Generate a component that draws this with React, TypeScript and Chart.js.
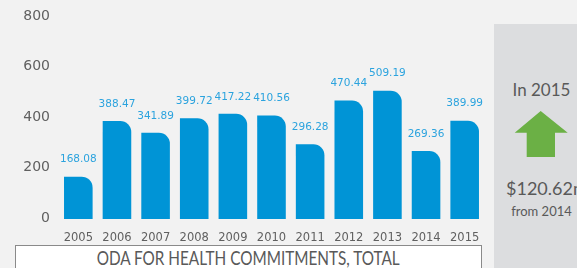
import React, { useEffect, useLayoutEffect, useRef } from "react";
import { Chart, registerables } from "chart.js";

Chart.register(...registerables);

const years = ["2005", "2006", "2007", "2008", "2009", "2010", "2011", "2012", "2013", "2014", "2015"];
const commitments = [168.08, 388.47, 341.89, 399.72, 417.22, 410.56, 296.28, 470.44, 509.19, 269.36, 389.99];
const yTicks = [0, 200, 400, 600, 800];
const chartTitle = "ODA FOR HEALTH COMMITMENTS, TOTAL";
const panelYear = "In 2015";
const panelChange = "$120.62m";
const panelFrom = "from 2014";

const BAR = "#0094d6";
const LABEL = "#2ba3de";
const GRAY = "#595959";

const valueLabels = {
  id: "valueLabels",
  afterDatasetsDraw(chart: any) {
    const ctx = chart.ctx;
    const meta = chart.getDatasetMeta(0);
    ctx.save();
    ctx.fillStyle = LABEL;
    ctx.font = "10.5px 'DejaVu Sans'";
    ctx.textAlign = "center";
    ctx.textBaseline = "middle";
    meta.data.forEach((el: any, i: number) => {
      ctx.fillText(commitments[i].toFixed(2), el.x, el.y - 17);
    });
    ctx.restore();
  },
};

export default function App() {
  const ref = useRef<HTMLCanvasElement>(null);
  const titleRef = useRef<HTMLSpanElement>(null);

  useLayoutEffect(() => {
    const el = titleRef.current;
    if (el) {
      const w = el.getBoundingClientRect().width;
      if (w > 0) el.style.transform = `scaleX(${303 / w})`;
    }
  }, []);

  useEffect(() => {
    document.body.style.margin = "0";
    const chart = new Chart(ref.current!, {
      type: "bar",
      data: {
        labels: years,
        datasets: [
          {
            data: commitments,
            backgroundColor: BAR,
            borderWidth: 0,
            borderSkipped: false,
            borderRadius: { topLeft: 0, topRight: 11, bottomLeft: 0, bottomRight: 0 },
            categoryPercentage: 1,
            barPercentage: 0.74,
          },
        ],
      },
      options: {
        animation: false,
        responsive: false,
        maintainAspectRatio: false,
        layout: { padding: { top: 13, right: 93, left: 0, bottom: 0 } },
        plugins: { legend: { display: false }, tooltip: { enabled: false } },
        scales: {
          x: {
            grid: { display: false, drawTicks: false },
            border: { display: false },
            ticks: { color: "#606060", font: { family: "DejaVu Sans", size: 11.5 }, padding: 12, maxRotation: 0 },
            afterFit: (s: any) => { s.height = 49; },
          },
          y: {
            min: 0,
            max: 800,
            grid: { display: false, drawTicks: false },
            border: { display: false },
            afterBuildTicks: (s: any) => { s.ticks = yTicks.map((v) => ({ value: v })); },
            ticks: { color: "#606060", font: { family: "DejaVu Sans", size: 14 }, padding: 9, labelOffset: -1 },
            afterFit: (s: any) => { s.width = 59; },
          },
        },
      },
      plugins: [valueLabels],
    });
    return () => chart.destroy();
  }, []);

  return (
    <div style={{ position: "fixed", left: 0, top: 0, width: 577, height: 268, background: "#f2f2f2", overflow: "hidden" }}>
      <canvas ref={ref} width={577} height={268} style={{ position: "absolute", left: 0, top: 0, width: 577, height: 268 }} />
      <div
        style={{
          position: "absolute", left: 15, top: 245, width: 467, height: 40,
          background: "#ffffff", border: "1px solid #8a8a8a", boxSizing: "border-box",
          textAlign: "center", fontFamily: "Lato, sans-serif",
          fontSize: 19, color: GRAY, lineHeight: "24px",
        }}
      >
        <span ref={titleRef} style={{ display: "inline-block", whiteSpace: "nowrap", transformOrigin: "center" }}>
          {chartTitle}
        </span>
      </div>
      <div
        style={{
          position: "absolute", left: 494, top: 24, width: 100, height: 260,
          background: "#dcdddf",
        }}
      >
        <div style={{ position: "absolute", left: 0, width: 95, top: 56, textAlign: "center", fontFamily: "Lato, sans-serif", fontSize: 17, color: GRAY, lineHeight: "20px" }}>
          {panelYear}
        </div>
        <svg width={100} height={60} style={{ position: "absolute", left: 0, top: 80 }}>
          <polygon points="20.7,28.7 46.7,7 73.7,28.7 61,28.7 61,53 32.7,53 32.7,28.7" fill="#6bb045" />
        </svg>
        <div style={{ position: "absolute", left: 12, top: 153, whiteSpace: "nowrap", fontFamily: "Lato, sans-serif", fontSize: 18, color: GRAY, lineHeight: "22px" }}>
          {panelChange}
        </div>
        <div style={{ position: "absolute", left: 0, width: 95, top: 179, textAlign: "center", fontFamily: "Lato, sans-serif", fontSize: 13, color: GRAY, lineHeight: "16px" }}>
          {panelFrom}
        </div>
      </div>
    </div>
  );
}
